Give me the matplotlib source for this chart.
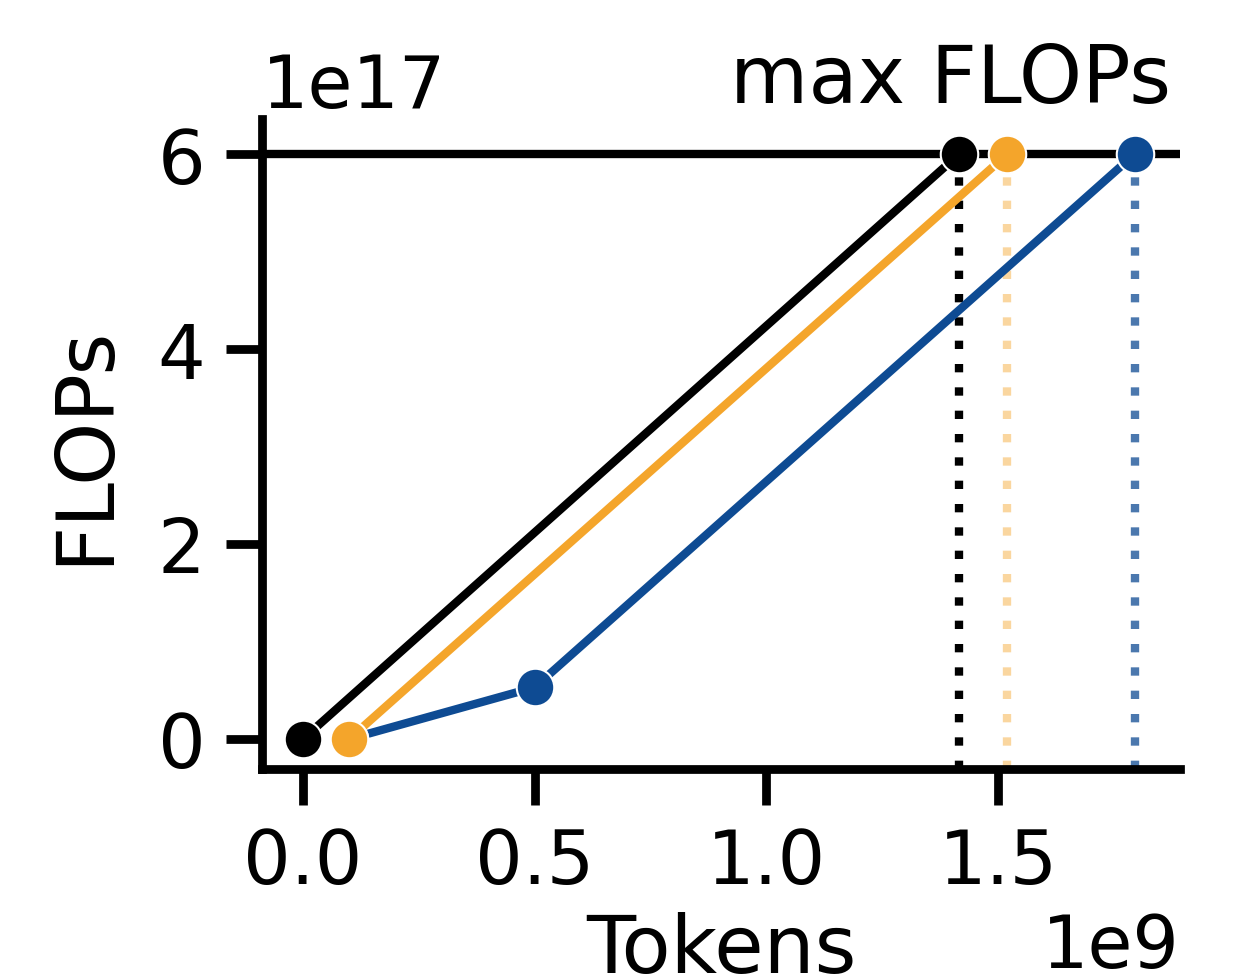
import numpy as np
import matplotlib
matplotlib.use("Agg")
import matplotlib.pyplot as plt

# Data (tokens, FLOPs)
black_tokens = [0.0, 1.416e9]
black_flops = [0.0, 6e17]
orange_tokens = [0.1e9, 1.52e9]
orange_flops = [0.0, 6e17]
blue_tokens = [0.1e9, 0.5e9, 1.795e9]
blue_flops = [0.0, 0.53e17, 6e17]
max_flops = 6e17

black = "#000000"
orange = "#F4A52B"
blue = "#0E4B93"

plt.rcParams['font.size'] = 19
plt.rcParams['axes.linewidth'] = 2.1

fig = plt.figure(figsize=(4.15, 3.263), dpi=300)
ax = fig.add_axes([0.2104, 0.2135, 0.7374, 0.6639])

ax.axhline(max_flops, color="black", lw=2.0, zorder=1)

ymin = -0.308e17
for xs, ys, c, dot_alpha in [(blue_tokens, blue_flops, blue, 0.75),
                            (orange_tokens, orange_flops, orange, 0.45),
                            (black_tokens, black_flops, black, 1.0)]:
    ax.plot([xs[-1], xs[-1]], [ymin, ys[-1]], ls=(0, (1, 1.8)), color=c,
            lw=2.0, alpha=dot_alpha, zorder=2)
    ax.plot(xs, ys, color=c, lw=2.0, marker="o", markersize=9,
            markeredgecolor="white", markeredgewidth=0.5, zorder=3)

ax.set_xlim(-0.0885e9, 1.893e9)
ax.set_ylim(ymin, 6.36e17)
ax.set_xticks([0, 0.5e9, 1.0e9, 1.5e9])
ax.set_yticks([0, 2e17, 4e17, 6e17])
ax.tick_params(length=8.6, width=2.1, labelsize=18, pad=5)
ax.spines['top'].set_visible(False)
ax.spines['right'].set_visible(False)

ax.set_xlabel("Tokens", fontsize=19.3, labelpad=3)
ax.set_ylabel("FLOPs", fontsize=19.3, labelpad=8)
ax.xaxis.get_offset_text().set_fontsize(17.5)
ax.yaxis.get_offset_text().set_fontsize(17.5)

ax.text(0.99, 1.0, "max FLOPs", transform=ax.transAxes, ha="right",
        va="bottom", fontsize=19.3)

fig.savefig("out.png", dpi=300)
